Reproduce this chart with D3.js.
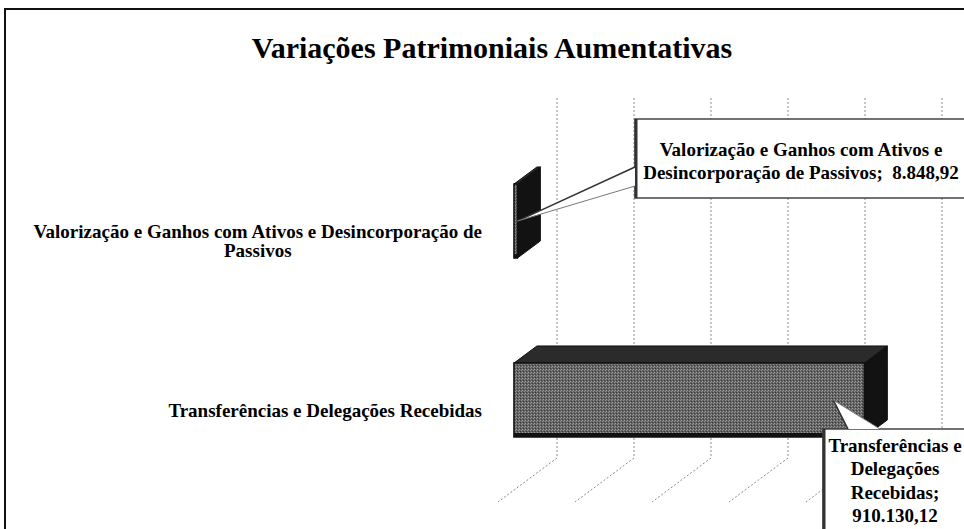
<!DOCTYPE html>
<html>
<head>
<meta charset="utf-8">
<script src="https://cdn.jsdelivr.net/npm/d3@7"></script>
<style>
  body { margin: 0; background: #fff; }
  svg { display: block; font-family: 'Liberation Serif', 'Times New Roman', serif; font-weight: bold; }
</style>
</head>
<body>
<svg id="chart" width="964" height="529"></svg>
<script>
// chart data
const chartTitle = 'Variações Patrimoniais Aumentativas';
const categories = [
  'Valorização e Ganhos com Ativos e Desincorporação de Passivos',
  'Transferências e Delegações Recebidas'
];
const categoryLines = [
  ['Valorização e Ganhos com Ativos e Desincorporação de', 'Passivos'],
  ['Transferências e Delegações Recebidas']
];
const values = [8848.92, 910130.12];
const calloutLines = [
  ['Valorização e Ganhos com Ativos e', 'Desincorporação de Passivos;'],
  ['Transferências e', 'Delegações', 'Recebidas;']
];
const valueOnSameLine = [true, false];
const gridTicks = [0, 200000, 400000, 600000, 800000, 1000000];

const ptBR = d3.formatLocale({ decimal: ',', thousands: '.', grouping: [3], currency: ['R$', ''] });
const fmt = ptBR.format(',.2f');

// oblique 3D projection: z = 0 is the front of the floor, z = 1 the back wall
const depth = { dx: 59, dy: -44 };
const barDepth = [0.27, 0.66];
const plotTop = 142;
const plotBottom = 502;

const svg = d3.select('#chart');

const xScale = d3.scaleLinear().domain([0, 1000000]).range([498, 883]);
const yScale = d3.scaleBand().domain(categories).range([196, 449]).paddingInner(0.5866).paddingOuter(0);

/**
 * Projects a point of the 3D box onto the page.
 */
function project(x, y, z) {
  return [x + z * depth.dx, y + z * depth.dy];
}

function polygon(points) {
  return 'M' + points.map(p => project(p[0], p[1], p[2]).join(',')).join('L') + 'Z';
}

/**
 * Draws the halftone pattern used on the front of the bars
 */
function addPatterns() {
  const pat = svg.append('defs')
    .append('pattern')
    .attr('id', 'halftone')
    .attr('width', 3)
    .attr('height', 3)
    .attr('patternUnits', 'userSpaceOnUse');
  pat.append('rect').attr('width', 3).attr('height', 3).attr('fill', '#626262');
  pat.append('rect').attr('width', 1).attr('height', 1).attr('fill', '#a0a0a0');
  pat.append('rect').attr('x', 2).attr('y', 1).attr('width', 1).attr('height', 1).attr('fill', '#8e8e8e');
  pat.append('rect').attr('x', 1).attr('y', 2).attr('width', 1).attr('height', 1).attr('fill', '#3a3a3a');
}

function drawFrame() {
  svg.append('line')
    .attr('x1', 4).attr('y1', 9).attr('x2', 964).attr('y2', 9)
    .attr('stroke', '#111').attr('stroke-width', 2);
  svg.append('line')
    .attr('x1', 5).attr('y1', 8).attr('x2', 5).attr('y2', 529)
    .attr('stroke', '#111').attr('stroke-width', 2);
}

function drawTitle() {
  svg.append('text')
    .attr('x', 492)
    .attr('y', 58)
    .attr('text-anchor', 'middle')
    .attr('font-size', 30)
    .attr('fill', '#000')
    .text(chartTitle);
}

/**
 * Gridlines on the back wall, continued across the floor
 */
function drawGrid() {
  const g = svg.append('g').attr('class', 'grid');
  g.selectAll('path')
    .data(gridTicks)
    .enter()
    .append('path')
    .attr('d', d => {
      const top = project(xScale(d), plotTop, 1);
      const back = project(xScale(d), plotBottom, 1);
      const front = project(xScale(d), plotBottom, 0);
      return `M${top}L${back}L${front}`;
    })
    .attr('fill', 'none')
    .attr('stroke', '#8a8a8a')
    .attr('stroke-width', 1)
    .attr('stroke-dasharray', '2,2');
}

function drawBars() {
  const bw = yScale.bandwidth();
  const [z0, z1] = barDepth;
  const bars = svg.selectAll('.bar')
    .data(categories.map((c, i) => ({ c, v: values[i] })))
    .enter()
    .append('g')
    .attr('class', 'bar');

  bars.append('path')
    .attr('d', d => {
      const x0 = xScale(0), x1 = xScale(d.v), y0 = yScale(d.c);
      return polygon([[x0, y0, z0], [x1, y0, z0], [x1, y0, z1], [x0, y0, z1]]);
    })
    .attr('fill', '#2b2b2b')
    .attr('stroke', '#111')
    .attr('stroke-width', 1);

  bars.append('path')
    .attr('d', d => {
      const x1 = xScale(d.v), y0 = yScale(d.c);
      return polygon([[x1, y0, z0], [x1, y0, z1], [x1, y0 + bw, z1], [x1, y0 + bw, z0]]);
    })
    .attr('fill', '#121212')
    .attr('stroke', '#111')
    .attr('stroke-width', 1);

  bars.append('path')
    .attr('d', d => {
      const x0 = xScale(0), x1 = xScale(d.v), y0 = yScale(d.c);
      return polygon([[x0, y0, z0], [x1, y0, z0], [x1, y0 + bw, z0], [x0, y0 + bw, z0]]);
    })
    .attr('fill', 'url(#halftone)')
    .attr('stroke', '#111')
    .attr('stroke-width', 1.5);

  bars.append('path')
    .attr('d', d => {
      const a = project(xScale(0), yScale(d.c) + bw - 2, z0);
      const b = project(xScale(d.v), yScale(d.c) + bw - 2, z0);
      return `M${a}L${b}`;
    })
    .attr('stroke', '#111')
    .attr('stroke-width', 4);
}

function drawCategoryLabels() {
  const lh = 19;
  const right = 482;
  categories.forEach((c, i) => {
    const lines = categoryLines[i];
    const t = svg.append('text')
      .attr('font-size', 19)
      .attr('fill', '#000')
      .attr('text-anchor', 'middle');
    const spans = t.selectAll('tspan')
      .data(lines)
      .enter()
      .append('tspan')
      .attr('y', (d, j) => yScale(c) + yScale.bandwidth() / 2 - 1.5 + j * lh)
      .attr('dominant-baseline', 'central')
      .text(d => d);
    const widest = d3.max(spans.nodes(), n => n.getComputedTextLength());
    spans.attr('x', right - widest / 2);
  });
}

const callouts = [
  { box: { x: 635, y: 119, w: 332, h: 79 }, base: [[635, 167], [635, 186]], tipShift: 0, fontSize: 19, lh: 23, firstY: 149 },
  { box: { x: 823, y: 429, w: 144, h: 110 }, base: [[848, 429], [880, 429]], tipShift: -31, fontSize: 19, lh: 23.5, firstY: 445 }
];

function drawCallouts() {
  const [z0] = barDepth;
  categories.forEach((c, i) => {
    const co = callouts[i];
    const tip = project(xScale(values[i]) + co.tipShift, yScale(c) + yScale.bandwidth() / 2, z0);
    const g = svg.append('g').attr('class', 'callout');

    g.append('rect')
      .attr('x', co.box.x).attr('y', co.box.y)
      .attr('width', co.box.w).attr('height', co.box.h)
      .attr('fill', '#fff')
      .attr('stroke', '#444')
      .attr('stroke-width', 1.5);
    g.append('line')
      .attr('x1', co.box.x + 1).attr('y1', co.box.y)
      .attr('x2', co.box.x + 1).attr('y2', co.box.y + co.box.h)
      .attr('stroke', '#333')
      .attr('stroke-width', 3);

    g.append('path')
      .attr('d', `M${co.base[0]}L${tip}L${co.base[1]}Z`)
      .attr('fill', '#fff');
    g.append('path')
      .attr('d', `M${co.base[0]}L${tip}`)
      .attr('stroke', '#333').attr('stroke-width', 1.5).attr('fill', 'none');
    g.append('path')
      .attr('d', `M${tip}L${co.base[1]}`)
      .attr('stroke', '#777').attr('stroke-width', 1).attr('fill', 'none');

    const lines = calloutLines[i].slice();
    if (valueOnSameLine[i]) {
      lines[lines.length - 1] += '  ' + fmt(values[i]);
    } else {
      lines.push(fmt(values[i]));
    }
    const cx = co.box.x + co.box.w / 2;
    g.append('text')
      .attr('font-size', co.fontSize)
      .attr('fill', '#000')
      .attr('text-anchor', 'middle')
      .selectAll('tspan')
      .data(lines)
      .enter()
      .append('tspan')
      .attr('x', cx)
      .attr('y', (d, j) => co.firstY + j * co.lh)
      .attr('dominant-baseline', 'central')
      .attr('xml:space', 'preserve')
      .text(d => d);
  });
}

addPatterns();
drawFrame();
drawTitle();
drawGrid();
drawBars();
drawCategoryLabels();
drawCallouts();
</script>
</body>
</html>
